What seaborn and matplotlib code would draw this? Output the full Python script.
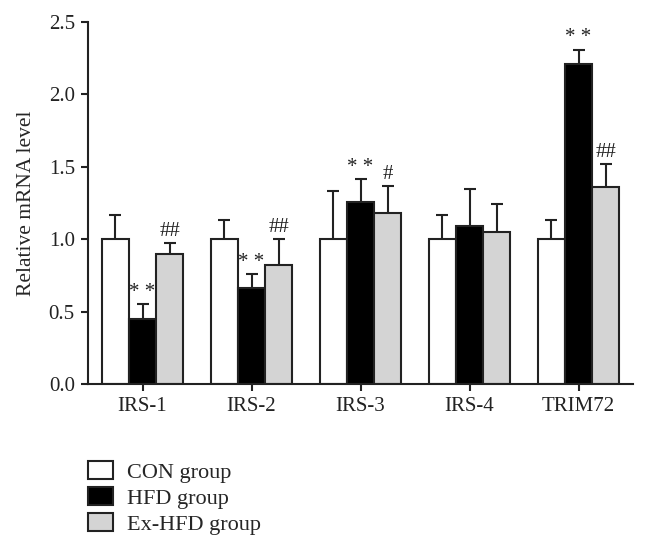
import matplotlib
matplotlib.use("Agg")
import matplotlib.pyplot as plt
import seaborn as sns
import pandas as pd
from matplotlib.patches import Patch

genes = ["IRS-1", "IRS-2", "IRS-3", "IRS-4", "TRIM72"]
groups = ["CON group", "HFD group", "Ex-HFD group"]
con_mean = [1.00, 1.00, 1.00, 1.00, 1.00]
hfd_mean = [0.45, 0.66, 1.26, 1.09, 2.21]
ex_mean = [0.90, 0.82, 1.18, 1.05, 1.36]
con_err = [0.17, 0.13, 0.33, 0.17, 0.13]
hfd_err = [0.10, 0.10, 0.155, 0.26, 0.10]
ex_err = [0.075, 0.18, 0.185, 0.19, 0.16]
hfd_marks = ["* *", "* *", "* *", "", "* *"]
ex_marks = ["##", "##", "#", "", "##"]
yticks = [0.0, 0.5, 1.0, 1.5, 2.0, 2.5]

colors = ["#ffffff", "#000000", "#d4d4d4"]
edge = "#222222"

sns.set_style("ticks")
plt.rcParams["font.family"] = ["Liberation Serif", "DejaVu Serif"]

rows = []
for g, means in zip(groups, [con_mean, hfd_mean, ex_mean]):
    for gene, m in zip(genes, means):
        rows.append({"gene": gene, "group": g, "value": m})
df = pd.DataFrame(rows)

fig = plt.figure(figsize=(6.48, 5.49), dpi=100)
ax = fig.add_axes([88 / 648, 1 - 384 / 549, (633 - 88) / 648, (384 - 22) / 549])

sns.barplot(data=df, x="gene", y="value", hue="group", order=genes,
            hue_order=groups, palette=colors, edgecolor=edge, linewidth=1.5,
            width=0.75, errorbar=None, legend=False, ax=ax, saturation=1)

for cont, means, errs, marks in zip(ax.containers,
                                    [con_mean, hfd_mean, ex_mean],
                                    [con_err, hfd_err, ex_err],
                                    [None, hfd_marks, ex_marks]):
    xs = [b.get_x() + b.get_width() / 2 for b in cont]
    _, caps, _ = ax.errorbar(xs, means, yerr=[[0] * len(errs), errs], fmt="none",
                             ecolor=edge, elinewidth=1.5, capsize=4, capthick=1.5,
                             zorder=1)
    caps[0].set_visible(False)
    if marks:
        for x, m, e, t in zip(xs, means, errs, marks):
            if t:
                ax.annotate(t, (x, m + e), xytext=(0, 1.5), textcoords="offset points",
                            ha="center", va="bottom", fontsize=15, color="#222")

ax.set_ylim(0, 2.5)
ax.set_xlim(-0.5, 4.5)
ax.set_yticks(yticks)
ax.set_yticklabels([f"{v:.1f}" for v in yticks])
ax.set_xlabel("")
ax.set_ylabel("Relative mRNA level", fontsize=15.5, labelpad=9)
ax.tick_params(axis="both", labelsize=15, width=1.5, length=5, pad=4.5,
               color=edge, labelcolor="#222")
for s in ["left", "bottom"]:
    ax.spines[s].set_linewidth(1.5)
    ax.spines[s].set_color(edge)
sns.despine(ax=ax)

handles = [Patch(facecolor=c, edgecolor=edge, linewidth=1.5) for c in colors]
fig.legend(handles, groups, loc="upper left", bbox_to_anchor=(86 / 648, 1 - 459 / 549),
           frameon=False, fontsize=16, handlelength=1.1, handleheight=0.85,
           handletextpad=0.65, labelspacing=0.2, borderaxespad=0, borderpad=0.1)

fig.savefig("out.png", dpi=100)
